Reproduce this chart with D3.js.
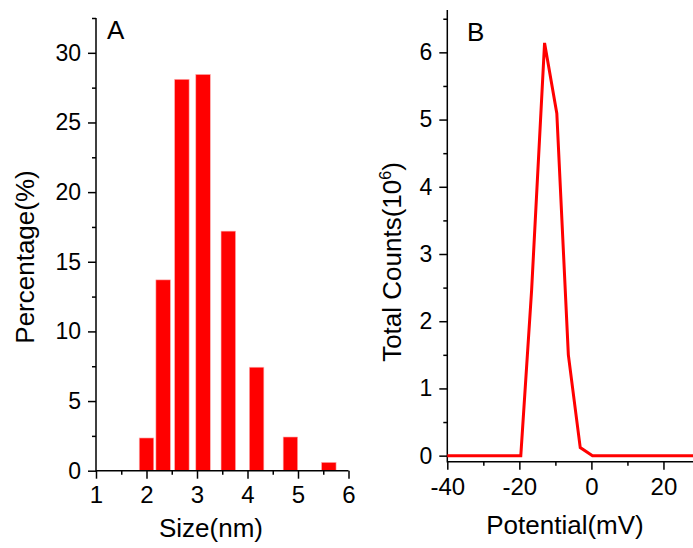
<!DOCTYPE html>
<html>
<head>
<meta charset="utf-8">
<script src="https://cdn.jsdelivr.net/npm/d3@7"></script>
<style>
  body { margin: 0; background: #fff; }
  svg { display: block; font-family: "Liberation Sans", Arial, sans-serif; }
  .axis path, .axis line { stroke: #000; stroke-width: 1.5; }
  .axis text { fill: #000; }
</style>
</head>
<body>
<div class="chart"></div>
<script>
// Panel A: size distribution
var sizes = [2.00, 2.33, 2.70, 3.12, 3.62, 4.18, 4.85, 5.61];
var percents = [2.35, 13.7, 28.1, 28.45, 17.2, 7.43, 2.42, 0.6];
var sizeTicks = [1, 2, 3, 4, 5, 6];
var percentTicks = [0, 5, 10, 15, 20, 25, 30];

// Panel B: zeta potential
var potentials = [-40, -19.6, -16.6, -13.0, -9.6, -6.4, -3.1, 0.3, 28.2];
var counts = [0, 0, 2.46, 6.14, 5.09, 1.5, 0.12, 0, 0];
var potentialTicks = [-40, -20, 0, 20];
var countTicks = [0, 1, 2, 3, 4, 5, 6];

(function draw() {

  'use strict';

  var width = 693, height = 548;
  var red = '#ff0000';

  var svg = d3.select('.chart').append('svg')
    .attr('width', width)
    .attr('height', height);

  // plain hyphen for negatives, as in the original
  var fmt = function (d) { return String(d); };

  function axes(g, x, y, opts) {
    var x0 = x.range()[0], x1 = x.range()[1];
    var y0 = y.range()[0], y1 = y.range()[1];

    // minor ticks
    g.append('g').attr('class', 'axis')
      .attr('transform', 'translate(0,' + y0 + ')')
      .call(d3.axisBottom(x).tickValues(opts.xMinor).tickSize(4).tickFormat(''))
      .select('.domain').remove();
    g.append('g').attr('class', 'axis')
      .attr('transform', 'translate(' + x0 + ',0)')
      .call(d3.axisLeft(y).tickValues(opts.yMinor).tickSize(4).tickFormat(''))
      .select('.domain').remove();

    // major ticks
    var xa = g.append('g').attr('class', 'axis')
      .attr('transform', 'translate(0,' + y0 + ')')
      .call(d3.axisBottom(x).tickValues(opts.xTicks).tickSize(8).tickPadding(opts.xPad).tickFormat(fmt));
    xa.select('.domain').remove();
    xa.selectAll('text').style('font-size', '24px');

    var ya = g.append('g').attr('class', 'axis')
      .attr('transform', 'translate(' + x0 + ',0)')
      .call(d3.axisLeft(y).tickValues(opts.yTicks).tickSize(8).tickPadding(7).tickFormat(fmt));
    ya.select('.domain').remove();
    ya.selectAll('text').style('font-size', '23px');

    // axis lines
    g.append('path')
      .attr('d', 'M' + x0 + ',' + y1 + 'V' + y0 + 'H' + x1)
      .attr('fill', 'none')
      .attr('stroke', '#000')
      .attr('stroke-width', 1.5);
  }

  // ---- Panel A ----
  var xA = d3.scaleLinear().domain([1, 6]).range([96, 348.5]);
  var yA = d3.scaleLinear().domain([0, 32.5]).range([470.7, 18]);
  var barW = 0.288;

  var gA = svg.append('g');

  gA.selectAll('.bar')
      .data(sizes)
      .enter()
    .append('rect')
      .attr('class', 'bar')
      .attr('x', function (d) { return xA(d - barW / 2); })
      .attr('width', function (d) { return xA(d + barW / 2) - xA(d - barW / 2); })
      .attr('y', function (d, i) { return yA(percents[i]); })
      .attr('height', function (d, i) { return yA(0) - yA(percents[i]); })
      .attr('fill', red)
      .attr('stroke', '#ffb3b3')
      .attr('stroke-width', 0.6);

  axes(gA, xA, yA, {
    xTicks: sizeTicks,
    xMinor: d3.range(1.5, 6, 1),
    yTicks: percentTicks,
    yMinor: d3.range(2.5, 33, 5),
    xPad: 7
  });

  gA.append('text')
    .attr('x', 211).attr('y', 537)
    .attr('text-anchor', 'middle')
    .style('font-size', '26px')
    .text('Size(nm)');

  gA.append('text')
    .attr('transform', 'translate(34,257) rotate(-90)')
    .attr('text-anchor', 'middle')
    .style('font-size', '26px')
    .text('Percentage(%)');

  gA.append('text')
    .attr('x', 107).attr('y', 38.5)
    .style('font-size', '26px')
    .text('A');

  // ---- Panel B ----
  var xB = d3.scaleLinear().domain([-40, 28.2]).range([447.3, 693]);
  var yB = d3.scaleLinear().domain([-0.09, 6.63]).range([461.7, 10]);

  var gB = svg.append('g');

  axes(gB, xB, yB, {
    xTicks: potentialTicks,
    xMinor: [-30, -10, 10],
    yTicks: countTicks,
    yMinor: d3.range(0.5, 6.6, 1),
    xPad: 8
  });

  var line = d3.line()
    .x(function (d) { return xB(d); })
    .y(function (d, i) { return yB(counts[i]); });

  gB.append('path')
    .datum(potentials)
    .attr('d', line)
    .attr('fill', 'none')
    .attr('stroke', red)
    .attr('stroke-width', 3)
    .attr('stroke-linejoin', 'miter');

  gB.append('text')
    .attr('x', 565).attr('y', 534)
    .attr('text-anchor', 'middle')
    .style('font-size', '26px')
    .text('Potential(mV)');

  var yt = gB.append('text')
    .attr('transform', 'translate(401,262) rotate(-90)')
    .attr('text-anchor', 'middle')
    .style('font-size', '26px');
  yt.append('tspan').text('Total Counts(10');
  yt.append('tspan').attr('dy', -10).style('font-size', '16px').text('6');
  yt.append('tspan').attr('dy', 10).text(')');

  gB.append('text')
    .attr('x', 467).attr('y', 40.5)
    .style('font-size', '26px')
    .text('B');
})();
</script>
</body>
</html>
